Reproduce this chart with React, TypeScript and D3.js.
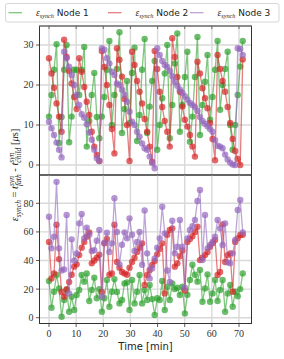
import React, { useEffect, useRef } from "react";
import * as d3 from "d3";

// sample period in minutes (one sync round)
const SAMPLE_MIN = 0.927;

const topGreen = [12.1,17.5,23.8,30.2,5.5,12,23.8,30,5.7,12.1,23.8,23.8,17.5,23.8,29.5,4.6,11,17.5,23,12,6.7,12.1,17,23.8,31,10,17.5,24,33.2,8,14,21,10.5,23,29.3,6,12.5,23.8,31.5,8,14.6,21,26,3.8,10,16.7,22.9,30,6.7,15,25.4,32.9,8.3,15,22,28.3,5.8,12.1,22,32,7.5,15,20.8,27.5,11.3,17,23.8,31,13.8,20,24,28.3,10,3.8,10,17.5,24.6,31];
const topRed = [26.7,22.9,19.3,15.4,12.1,8.3,31.3,27,23.5,20.4,17,14,26.7,23.3,19.5,15.8,12.5,8.3,4.6,2.5,1.0,28.5,24.5,20,15,9,2.9,29.2,26.3,22.1,16.5,10,1.0,28.3,25,21,18.3,15.4,11.5,8.3,4.6,0.8,28.5,24,18.3,14.5,11,8.3,4.6,31.7,27,22,18.3,14.6,11.3,9.6,7.5,4.6,2.1,25.8,22.9,19.2,16.7,14.2,10.5,6.5,1.2,27.5,24,21,18.3,14.5,10.5,6.5,3.5,1.5,0,26.4];
const topPurple = [10.8,9.2,7.5,5.6,3.8,1.9,28.3,26.7,24.6,22.5,20,17.5,15,12.7,11.8,10.2,8.1,6.3,3.8,1.7,1.0,29.2,28.8,26.7,25.4,23.3,22.5,20.4,20,18.8,17.5,15.8,13.3,10.8,10,8.3,7.1,5.4,4.2,3.8,2.1,0.5,-0.8,29.2,27.5,26,25,24.5,23.5,22.2,20.8,19.8,18.9,18,17.2,16.3,15.5,15,14.5,13.5,12,11,10.3,9.7,9,8.3,6.2,4.8,4.6,4.2,2.6,1.4,0.6,0.1,0,29.2,29,27.5];

const botGreen = [25.7,7,18.2,29.9,20.5,0.7,12.4,19.4,4.2,14.7,5.4,15.9,19.4,29.9,25.2,31,11.7,19.4,28,13.6,20,4.2,13.6,26.4,7.7,18.2,27,18,10,12.4,24,24.7,5.4,26.4,10,18.2,29.9,10,19.4,12.4,22.9,13,1.9,13.6,12.4,25.7,5.4,21.7,12.4,24,20,21,15.9,21.7,3,16,26.4,37,30,25.2,33.4,11.2,20.5,30.3,11.2,17,26.4,11.7,19.4,26.4,4.2,17,22.9,7.7,18.2,15,20,31];
const botRed = [53,27.5,31,65,41,18,14.7,20,25,30,35.7,37.3,43.8,49,53,56.7,59.7,38,40,42,44,18,52,55,30,31,65,39,35,32,31,30,35,39,42,46,49,52,22.9,29.9,33.4,36.9,39.6,44.3,48,52,17,58,61.3,62.5,35.7,38,43,47,19,53,55,57,60,63.6,40.3,42,43.8,46,49.6,52,54.3,29.9,32,65.3,39,43.8,45,18.2,53,55.5,57.8,58];
const botPurple = [70.6,48.5,56.7,95,48.5,33,33.8,71.8,17,54.8,39.9,45,66,72.5,55.5,63,58,46.6,47.2,53.8,61.3,14.7,52.4,59.5,46,52,83.5,60,37.3,51,59.7,55.5,69.5,58,46.7,53,60,37,75,45,27.5,34.5,41.5,49,55.5,77.6,59,33,25,67.8,45,49.6,68.3,49.6,21,55.5,61.3,64,68.3,81.6,89.3,40.3,71.8,48.5,50.8,53,56.7,68.4,62.5,50.8,66,38.7,38,45,54.3,75.3,82.3,59.7];

const times = topGreen.map((_, i) => i * SAMPLE_MIN);

const nodeNames = ["Node 1", "Node 2", "Node 3"];
const colors = ["#2ca02c", "#d62728", "#9467bd"];
const xTicks = [0, 10, 20, 30, 40, 50, 60, 70];
const topTicks = [0, 10, 20, 30];
const botTicks = [0, 20, 40, 60, 80];

const SERIF = "'Liberation Serif', 'DejaVu Serif', serif";
const SANS = "'DejaVu Sans', sans-serif";

type Piece = { t: string; it?: boolean; fs: number; dy: number; font?: string; stack?: boolean };

function drawRow(g: any, pieces: Piece[], y0: number) {
  let x = 0;
  let pend = 0;
  pieces.forEach((p) => {
    const el = g
      .append("text")
      .attr("x", x)
      .attr("y", y0 + p.dy)
      .attr("font-size", p.fs)
      .attr("font-family", p.font ?? SERIF)
      .attr("font-style", p.it ? "italic" : "normal")
      .attr("fill", "#222")
      .style("white-space", "pre")
      .text(p.t);
    const w = (el.node() as SVGTextElement).getComputedTextLength();
    if (p.stack) {
      pend = Math.max(pend, w);
    } else {
      x += Math.max(pend, w);
      pend = 0;
    }
  });
  return x;
}

const App = () => {
  const svgRef = useRef<SVGSVGElement>(null);

  useEffect(() => {
    const svg = d3.select(svgRef.current);
    svg.selectAll("*").remove();

    const width = 284;
    const height = 359;
    const left = 39.5;
    const right = 251.5;
    const topY = 26;
    const midY = 175;
    const botY = 323.5;

    const x = d3.scaleLinear().domain([-3.5, 74.6]).range([left, right]);
    const yTop = d3.scaleLinear().domain([-2.5, 34.75]).range([midY, topY]);
    const yBot = d3.scaleLinear().domain([-4.05, 99.8]).range([botY, midY]);

    svg.append("rect").attr("width", width).attr("height", height).attr("fill", "white");

    const panels = [
      { y: yTop, ticks: topTicks, series: [topGreen, topRed, topPurple], y0: topY, y1: midY },
      { y: yBot, ticks: botTicks, series: [botGreen, botRed, botPurple], y0: midY, y1: botY },
    ];

    panels.forEach((p) => {
      const g = svg.append("g");
      // grid
      g.selectAll("line.vg")
        .data(xTicks)
        .enter()
        .append("line")
        .attr("x1", (d) => x(d))
        .attr("x2", (d) => x(d))
        .attr("y1", p.y0)
        .attr("y2", p.y1)
        .attr("stroke", "#d9d9d9")
        .attr("stroke-width", 1.4);
      g.selectAll("line.hg")
        .data(p.ticks)
        .enter()
        .append("line")
        .attr("x1", left)
        .attr("x2", right)
        .attr("y1", (d) => p.y(d))
        .attr("y2", (d) => p.y(d))
        .attr("stroke", "#d9d9d9")
        .attr("stroke-width", 1.4);

      // series
      p.series.forEach((vals, k) => {
        const pts = vals.map((v, i) => [times[i], v] as [number, number]);
        const line = d3
          .line<[number, number]>()
          .x((d) => x(d[0]))
          .y((d) => p.y(d[1]));
        g.append("path")
          .attr("d", line(pts))
          .attr("fill", "none")
          .attr("stroke", colors[k])
          .attr("stroke-opacity", 0.6)
          .attr("stroke-width", 1.3);
        g.selectAll(null)
          .data(pts)
          .enter()
          .append("circle")
          .attr("cx", (d) => x(d[0]))
          .attr("cy", (d) => p.y(d[1]))
          .attr("r", 3.2)
          .attr("fill", colors[k])
          .attr("fill-opacity", 0.7);
      });

      // y axis ticks + labels
      p.ticks.forEach((t) => {
        g.append("line")
          .attr("x1", left - 3.5)
          .attr("x2", left)
          .attr("y1", p.y(t))
          .attr("y2", p.y(t))
          .attr("stroke", "#333")
          .attr("stroke-width", 0.8);
        g.append("text")
          .attr("x", left - 6)
          .attr("y", p.y(t) + 3.4)
          .attr("text-anchor", "end")
          .attr("font-size", 10)
          .attr("font-family", SERIF)
          .attr("fill", "#333")
          .text(t);
      });

      // frame
      g.append("rect")
        .attr("x", left)
        .attr("y", p.y0)
        .attr("width", right - left)
        .attr("height", p.y1 - p.y0)
        .attr("fill", "none")
        .attr("stroke", "#333")
        .attr("stroke-width", 1);
    });

    // top spine of upper panel: grey with inward ticks
    svg.append("line")
      .attr("x1", left).attr("x2", right)
      .attr("y1", topY).attr("y2", topY)
      .attr("stroke", "#888").attr("stroke-width", 1.6);
    xTicks.forEach((t) => {
      svg.append("line")
        .attr("x1", x(t)).attr("x2", x(t))
        .attr("y1", topY).attr("y2", topY + 3)
        .attr("stroke", "#555").attr("stroke-width", 0.8);
    });

    // bottom x ticks + labels
    xTicks.forEach((t) => {
      svg.append("line")
        .attr("x1", x(t)).attr("x2", x(t))
        .attr("y1", botY).attr("y2", botY + 3.5)
        .attr("stroke", "#333").attr("stroke-width", 0.8);
      svg.append("text")
        .attr("x", x(t))
        .attr("y", botY + 13)
        .attr("text-anchor", "middle")
        .attr("font-size", 10)
        .attr("font-family", SERIF)
        .attr("fill", "#333")
        .text(t);
    });

    svg.append("text")
      .attr("x", (left + right) / 2)
      .attr("y", 350)
      .attr("text-anchor", "middle")
      .attr("font-size", 10)
      .attr("font-family", SANS)
      .attr("fill", "#222")
      .text("Time [min]");

    // y label (rotated, spanning both panels)
    const yl = svg.append("g");
    const ylInner = yl.append("g");
    const big = 10.5;
    const small = 7.5;
    const w = drawRow(
      ylInner,
      [
        { t: "ε", it: true, fs: big, dy: 0 },
        { t: "synch", it: true, fs: small, dy: 2.5 },
        { t: " = ", fs: big, dy: 0 },
        { t: "t", it: true, fs: big, dy: 0 },
        { t: "syn", it: true, fs: small, dy: -4.5, stack: true },
        { t: "fath", it: true, fs: small, dy: 2.5 },
        { t: " - ", fs: big, dy: 0 },
        { t: "t", it: true, fs: big, dy: 0 },
        { t: "syn", it: true, fs: small, dy: -4.5, stack: true },
        { t: "child", it: true, fs: small, dy: 2.5 },
        { t: " [", fs: big, dy: 0 },
        { t: "μ", it: true, fs: big, dy: 0 },
        { t: "s]", fs: big, dy: 0 },
      ],
      0
    );
    ylInner.attr("transform", `translate(${-w / 2},0)`);
    yl.attr("transform", `translate(18,${midY}) rotate(-90)`);

    // legend
    const lg = svg.append("g");
    lg.append("rect")
      .attr("x", 5.5).attr("y", 3.5)
      .attr("width", 273.5).attr("height", 18.5)
      .attr("rx", 2)
      .attr("fill", "white")
      .attr("stroke", "#cccccc")
      .attr("stroke-width", 0.8);
    const lineStarts = [8.5, 108, 190];
    nodeNames.forEach((name, k) => {
      const x0 = lineStarts[k];
      lg.append("line")
        .attr("x1", x0).attr("x2", x0 + 13.5)
        .attr("y1", 12.7).attr("y2", 12.7)
        .attr("stroke", colors[k])
        .attr("stroke-opacity", 0.6)
        .attr("stroke-width", 1.3);
      const row = lg.append("g").attr("transform", `translate(${x0 + 27.5},0)`);
      drawRow(
        row,
        [
          { t: "ε", it: true, fs: 9.5, dy: 0 },
          { t: "synch", it: true, fs: 6.2, dy: 2 },
          { t: " " + name, fs: 9, dy: 0, font: SANS },
        ],
        16
      );
    });
  }, []);

  return (
    <div style={{ position: "absolute", left: 0, top: 0 }}>
      <svg ref={svgRef} width={284} height={359} style={{ display: "block" }} />
    </div>
  );
};

export default App;
